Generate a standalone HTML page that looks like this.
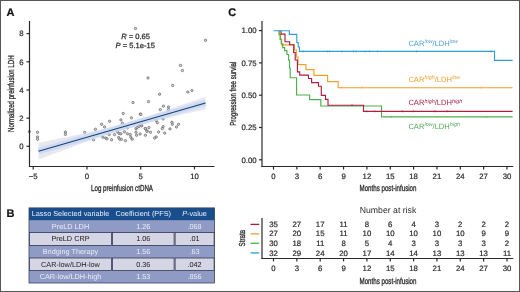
<!DOCTYPE html>
<html lang="en">
<head>
<meta charset="utf-8">
<title>Figure</title>
<style>
html,body{margin:0;padding:0;background:#fff;}
body{width:520px;height:292px;overflow:hidden;}
svg{display:block;font-family:"Liberation Sans", sans-serif;text-rendering:geometricPrecision;}
</style>
</head>
<body>
<svg width="520" height="292" viewBox="0 0 520 292">
<rect width="520" height="292" fill="#ffffff"/>
<g id="panelA">
<text x="6.4" y="15.8" font-size="11" font-weight="bold" fill="#111" stroke="#111" stroke-width="0.2">A</text>
<g fill="#cdcdcd" stroke="#555555" stroke-width="0.6">
<circle cx="29.4" cy="131.6" r="1.2"/>
<circle cx="37.5" cy="132.3" r="1.2"/>
<circle cx="37.5" cy="136.9" r="1.2"/>
<circle cx="37.5" cy="139.2" r="1.2"/>
<circle cx="65.4" cy="132.0" r="1.2"/>
<circle cx="65.4" cy="134.4" r="1.2"/>
<circle cx="84.7" cy="132.4" r="1.2"/>
<circle cx="95.4" cy="129.3" r="1.2"/>
<circle cx="101.6" cy="124.3" r="1.2"/>
<circle cx="104.6" cy="127.0" r="1.2"/>
<circle cx="109.6" cy="121.3" r="1.2"/>
<circle cx="120.9" cy="119.9" r="1.2"/>
<circle cx="122.4" cy="123.3" r="1.2"/>
<circle cx="123.2" cy="113.5" r="1.2"/>
<circle cx="131.4" cy="117.8" r="1.2"/>
<circle cx="140.3" cy="114.1" r="1.2"/>
<circle cx="93.5" cy="139.8" r="1.2"/>
<circle cx="102.8" cy="137.2" r="1.2"/>
<circle cx="105.7" cy="138.0" r="1.2"/>
<circle cx="106.9" cy="138.8" r="1.2"/>
<circle cx="109.2" cy="134.6" r="1.2"/>
<circle cx="111.6" cy="139.8" r="1.2"/>
<circle cx="114.5" cy="134.6" r="1.2"/>
<circle cx="117.4" cy="131.7" r="1.2"/>
<circle cx="119.1" cy="133.4" r="1.2"/>
<circle cx="120.9" cy="133.8" r="1.2"/>
<circle cx="118.6" cy="137.5" r="1.2"/>
<circle cx="119.7" cy="139.2" r="1.2"/>
<circle cx="121.5" cy="139.4" r="1.2"/>
<circle cx="125.5" cy="140.7" r="1.2"/>
<circle cx="124.4" cy="131.7" r="1.2"/>
<circle cx="127.3" cy="133.8" r="1.2"/>
<circle cx="130.2" cy="134.6" r="1.2"/>
<circle cx="130.8" cy="137.2" r="1.2"/>
<circle cx="132.2" cy="139.2" r="1.2"/>
<circle cx="127.3" cy="127.9" r="1.2"/>
<circle cx="136.0" cy="128.7" r="1.2"/>
<circle cx="137.2" cy="127.6" r="1.2"/>
<circle cx="139.0" cy="126.4" r="1.2"/>
<circle cx="141.3" cy="125.2" r="1.2"/>
<circle cx="136.0" cy="132.2" r="1.2"/>
<circle cx="136.6" cy="135.2" r="1.2"/>
<circle cx="140.1" cy="134.0" r="1.2"/>
<circle cx="145.4" cy="128.7" r="1.2"/>
<circle cx="147.1" cy="131.1" r="1.2"/>
<circle cx="145.4" cy="135.2" r="1.2"/>
<circle cx="148.9" cy="127.6" r="1.2"/>
<circle cx="135.5" cy="28.5" r="1.2"/>
<circle cx="205.5" cy="40.3" r="1.2"/>
<circle cx="180.5" cy="65.4" r="1.2"/>
<circle cx="182.4" cy="70.5" r="1.2"/>
<circle cx="148.0" cy="77.9" r="1.2"/>
<circle cx="172.7" cy="85.4" r="1.2"/>
<circle cx="159.6" cy="94.2" r="1.2"/>
<circle cx="187.8" cy="92.0" r="1.2"/>
<circle cx="191.9" cy="90.5" r="1.2"/>
<circle cx="148.5" cy="101.6" r="1.2"/>
<circle cx="133.0" cy="102.5" r="1.2"/>
<circle cx="163.4" cy="106.1" r="1.2"/>
<circle cx="160.3" cy="109.6" r="1.2"/>
<circle cx="168.5" cy="107.0" r="1.2"/>
<circle cx="168.5" cy="109.6" r="1.2"/>
<circle cx="140.8" cy="114.3" r="1.2"/>
<circle cx="163.1" cy="118.9" r="1.2"/>
<circle cx="156.2" cy="120.4" r="1.2"/>
<circle cx="157.3" cy="122.7" r="1.2"/>
<circle cx="171.9" cy="122.3" r="1.2"/>
<circle cx="172.4" cy="124.3" r="1.2"/>
<circle cx="178.5" cy="124.3" r="1.2"/>
<circle cx="176.5" cy="127.0" r="1.2"/>
<circle cx="141.8" cy="125.8" r="1.2"/>
<circle cx="145.4" cy="128.6" r="1.2"/>
<circle cx="146.9" cy="131.2" r="1.2"/>
<circle cx="150.5" cy="132.3" r="1.2"/>
<circle cx="163.1" cy="126.6" r="1.2"/>
<circle cx="162.3" cy="128.6" r="1.2"/>
<circle cx="170.0" cy="128.9" r="1.2"/>
<circle cx="158.5" cy="132.0" r="1.2"/>
<circle cx="164.7" cy="133.1" r="1.2"/>
<circle cx="156.2" cy="136.9" r="1.2"/>
<circle cx="154.6" cy="138.1" r="1.2"/>
</g>
<polygon points="38.5,142.9 42.7,142.1 46.9,141.2 51.0,140.3 55.2,139.5 59.4,138.6 63.5,137.7 67.7,136.9 71.9,136.0 76.1,135.1 80.2,134.2 84.4,133.3 88.6,132.3 92.8,131.4 97.0,130.4 101.1,129.4 105.3,128.4 109.5,127.4 113.7,126.3 117.8,125.2 122.0,124.1 126.2,122.9 130.3,121.7 134.5,120.4 138.7,119.1 142.9,117.8 147.1,116.5 151.2,115.2 155.4,113.8 159.6,112.4 163.8,111.1 167.9,109.7 172.1,108.3 176.3,106.8 180.4,105.4 184.6,104.0 188.8,102.5 193.0,101.1 197.2,99.7 201.3,98.2 205.5,96.8 205.5,109.2 201.3,110.2 197.2,111.2 193.0,112.1 188.8,113.1 184.6,114.1 180.4,115.0 176.3,116.0 172.1,117.0 167.9,118.0 163.8,119.0 159.6,120.1 155.4,121.1 151.2,122.2 147.1,123.2 142.9,124.3 138.7,125.4 134.5,126.6 130.3,127.7 126.2,128.9 122.0,130.1 117.8,131.4 113.7,132.7 109.5,134.0 105.3,135.4 101.1,136.8 97.0,138.2 92.8,139.7 88.6,141.2 84.4,142.6 80.2,144.1 76.1,145.6 71.9,147.2 67.7,148.7 63.5,150.2 59.4,151.7 55.2,153.3 51.0,154.8 46.9,156.4 42.7,157.9 38.5,159.5" fill="#d6d6e6" opacity="0.58"/>
<line x1="38.5" y1="151.2" x2="205.5" y2="103.0" stroke="#bdd5f5" stroke-width="6.4" opacity="0.62"/>
<line x1="38.5" y1="151.2" x2="205.5" y2="103.0" stroke="#1f3f6e" stroke-width="1.15"/>
<g stroke="#2a2a2a" stroke-width="1.2" fill="none">
<path d="M29.5 21 V166.9"/><path d="M29 166.4 H214.5" stroke-width="1.05"/>
<path d="M26.5 33.6 H29.5"/>
<path d="M26.5 61.8 H29.5"/>
<path d="M26.5 90.0 H29.5"/>
<path d="M26.5 118.2 H29.5"/>
<path d="M26.5 146.3 H29.5"/>
<path d="M33.2 166.4 V169.4"/>
<path d="M87.0 166.4 V169.4"/>
<path d="M140.7 166.4 V169.4"/>
<path d="M194.5 166.4 V169.4"/>
</g>
<g font-size="7.8" fill="#2b2b2b" stroke="#2b2b2b" stroke-width="0.2">
<text x="23.7" y="36.4" text-anchor="end">8</text>
<text x="23.7" y="64.6" text-anchor="end">6</text>
<text x="23.7" y="92.8" text-anchor="end">4</text>
<text x="23.7" y="121.0" text-anchor="end">2</text>
<text x="23.7" y="149.1" text-anchor="end">0</text>
<text x="33.2" y="178.9" text-anchor="middle">−5</text>
<text x="87.0" y="178.9" text-anchor="middle">0</text>
<text x="140.7" y="178.9" text-anchor="middle">5</text>
<text x="194.5" y="178.9" text-anchor="middle">10</text>
</g>
<g font-size="7.55" fill="#2b2b2b" stroke="#2b2b2b" stroke-width="0.25">
<text x="121.2" y="38.8"><tspan font-style="italic">R</tspan> = 0.65</text>
<text x="115.6" y="48.0"><tspan font-style="italic">P</tspan> = 5.1e-15</text>
</g>
<text x="122" y="191.4" font-size="8.7" fill="#2b2b2b" stroke="#2b2b2b" stroke-width="0.32" text-anchor="middle" textLength="62" lengthAdjust="spacingAndGlyphs">Log preinfusion ctDNA</text>
<text transform="translate(14 93.7) rotate(-90)" font-size="8.7" fill="#2b2b2b" stroke="#2b2b2b" stroke-width="0.32" text-anchor="middle" textLength="76.5" lengthAdjust="spacingAndGlyphs">Normalized preinfusion LDH</text>
</g>
<g id="panelB">
<text x="6.6" y="216.8" font-size="11" font-weight="bold" fill="#111" stroke="#111" stroke-width="0.2">B</text>
<rect x="29.0" y="207.9" width="185.5" height="75.1" fill="#909bc5"/>
<rect x="29.0" y="207.9" width="185.5" height="12.3" fill="#194e8c"/>
<rect x="29.0" y="232.6" width="185.5" height="12.8" fill="#d4d5e5"/>
<rect x="29.0" y="258.0" width="185.5" height="12.6" fill="#d4d5e5"/>
<g stroke="#2a2f4a" stroke-width="0.75" fill="none">
<rect x="29.4" y="232.6" width="82.2" height="12.8"/>
<rect x="112.6" y="232.6" width="61.5" height="12.8"/>
<rect x="175.1" y="232.6" width="39.0" height="12.8"/>
<rect x="29.4" y="258.0" width="82.2" height="12.6"/>
<rect x="112.6" y="258.0" width="61.5" height="12.6"/>
<rect x="175.1" y="258.0" width="39.0" height="12.6"/>
</g>
<rect x="29.0" y="207.9" width="185.5" height="75.1" fill="none" stroke="#3b4468" stroke-width="0.8"/>
<g font-size="7.3" text-anchor="middle">
<text x="70.5" y="216.25" fill="#e6effa">Lasso Selected variable</text>
<text x="143.25" y="216.25" fill="#e6effa">Coefficient (PFS)</text>
<text x="194.5" y="216.25" fill="#e6effa"><tspan font-style="italic">P</tspan>-value</text>
<text x="70.5" y="228.6" fill="#e9ecf7">PreLD LDH</text>
<text x="143.25" y="228.6" fill="#e9ecf7">1.26</text>
<text x="194.5" y="228.6" fill="#e9ecf7">.068</text>
<text x="70.5" y="241.2" fill="#1c1c1c">PreLD CRP</text>
<text x="143.25" y="241.2" fill="#1c1c1c">1.06</text>
<text x="194.5" y="241.2" fill="#1c1c1c">.01</text>
<text x="70.5" y="253.9" fill="#e9ecf7">Bridging Therapy</text>
<text x="143.25" y="253.9" fill="#e9ecf7">1.56</text>
<text x="194.5" y="253.9" fill="#e9ecf7">.63</text>
<text x="70.5" y="266.5" fill="#1c1c1c">CAR-low/LDH-low</text>
<text x="143.25" y="266.5" fill="#1c1c1c">0.36</text>
<text x="194.5" y="266.5" fill="#1c1c1c">.042</text>
<text x="70.5" y="279.0" fill="#e9ecf7">CAR-low/LDH-high</text>
<text x="143.25" y="279.0" fill="#e9ecf7">1.53</text>
<text x="194.5" y="279.0" fill="#e9ecf7">.856</text>
</g>
</g>
<g id="panelC">
<text x="228.2" y="15.8" font-size="11" font-weight="bold" fill="#111" stroke="#111" stroke-width="0.2">C</text>
<path d="M279.6 30.7 L279.6 34.6 L280.6 34.6 L280.6 39.4 L281.6 39.4 L281.6 44.8 L294.4 44.8 L294.4 50 L296.4 50 L296.4 57 L298 57 L298 64.6 L306 64.6 L306 69.6 L314 69.6 L314 75.4 L327.6 75.4 L327.6 81.6 L338.2 81.6 L338.2 87.7 L512.6 87.7" fill="none" stroke="#f2a02e" stroke-width="1.15" stroke-linejoin="miter"/>
<path d="M342 86.5 V88.7 M362 86.5 V88.7 M481 86.5 V88.7" fill="none" stroke="#f2a02e" stroke-width="0.7" opacity="0.85"/>
<path d="M279.0 30.7 L279.0 34.7 L280.1 34.7 L280.1 39.3 L281.2 39.3 L281.2 43.7 L282.7 43.7 L282.7 47.6 L284.6 47.6 L284.6 50.6 L286.9 50.6 L286.9 54.5 L288.6 54.5 L288.6 60 L289.5 60 L289.5 68 L290.2 68 L290.2 77.7 L296.6 77.7 L296.6 95 L309.6 95 L309.6 99.6 L320.8 99.6 L320.8 106 L381.5 106 L381.5 116.9 L512.6 116.9" fill="none" stroke="#4db04a" stroke-width="1.15" stroke-linejoin="miter"/>
<path d="M391 115.8 V118.0 M486.3 115.8 V118.0" fill="none" stroke="#4db04a" stroke-width="0.7" opacity="0.85"/>
<path d="M281.0 30.7 L281.0 34.1 L285.0 34.1 L285.0 41.7 L289.7 41.7 L289.7 44.7 L293.8 44.7 L293.6 52.5 L295.2 52.5 L295.2 60 L297.4 60 L297.4 71.8 L299.7 71.8 L299.7 75.1 L308.5 75.1 L308.5 78.5 L311.6 78.5 L311.6 82.6 L318.5 82.6 L318.5 86.2 L321.3 86.2 L321.3 95.4 L325.5 95.4 L325.5 99.3 L328 99.3 L328 105.2 L363.5 105.2 L363.5 111.4 L512.6 111.4" fill="none" stroke="#ab1f3f" stroke-width="1.15" stroke-linejoin="miter"/>
<path d="M366.5 110.2 V112.4 M374.8 110.2 V112.4 M402.5 110.2 V112.4 M413.3 110.2 V112.4 M435 110.2 V112.4 M447 110.2 V112.4" fill="none" stroke="#ab1f3f" stroke-width="0.7" opacity="0.85"/>
<path d="M352 104.0 V106.2" fill="none" stroke="#ab1f3f" stroke-width="0.7" opacity="0.85"/>
<path d="M273.5 30.7 L289.3 30.7 L289.3 34.4 L296.8 34.4 L296.8 42.5 L298.2 42.5 L298.2 47 L299.4 47 L299.4 51.3 L494.5 51.3 L494.5 60.4 L512.6 60.4" fill="none" stroke="#2f9fd8" stroke-width="1.15" stroke-linejoin="miter"/>
<path d="M303.4 50.3 V52.5 M327.3 50.3 V52.5 M329.6 50.3 V52.5 M341.9 50.3 V52.5 M353.5 50.3 V52.5 M356 50.3 V52.5 M365.2 50.3 V52.5 M369.4 50.3 V52.5 M377.7 50.3 V52.5 M416.5 50.3 V52.5 M491 50.3 V52.5" fill="none" stroke="#2f9fd8" stroke-width="0.7" opacity="0.85"/>
<text x="408.4" y="45.8" font-size="7.6" fill="#4a9fd0">CAR<tspan font-size="5.4" font-style="italic" dy="-2.5">low</tspan><tspan dy="2.5">/LDH</tspan><tspan font-size="5.4" font-style="italic" dy="-2.5">low</tspan></text>
<text x="408.4" y="81.7" font-size="7.6" fill="#f2a02e">CAR<tspan font-size="5.4" font-style="italic" dy="-2.5">high</tspan><tspan dy="2.5">/LDH</tspan><tspan font-size="5.4" font-style="italic" dy="-2.5">low</tspan></text>
<text x="408.4" y="105.0" font-size="7.6" fill="#ab1f3f">CAR<tspan font-size="5.4" font-style="italic" dy="-2.5">high</tspan><tspan dy="2.5">/LDH</tspan><tspan font-size="5.4" font-style="italic" dy="-2.5">high</tspan></text>
<text x="408.4" y="128.9" font-size="7.6" fill="#55a85a">CAR<tspan font-size="5.4" font-style="italic" dy="-2.5">low</tspan><tspan dy="2.5">/LDH</tspan><tspan font-size="5.4" font-style="italic" dy="-2.5">high</tspan></text>
<g stroke="#2a2a2a" stroke-width="1.2" fill="none">
<path d="M262 21 V167"/><path d="M261.4 166.5 H513.3" stroke-width="1.05"/>
<path d="M259 30.60 H262"/>
<path d="M259 62.90 H262"/>
<path d="M259 95.20 H262"/>
<path d="M259 127.50 H262"/>
<path d="M259 159.80 H262"/>
<path d="M273.50 166.5 V169.6"/>
<path d="M296.85 166.5 V169.6"/>
<path d="M320.20 166.5 V169.6"/>
<path d="M343.55 166.5 V169.6"/>
<path d="M366.90 166.5 V169.6"/>
<path d="M390.25 166.5 V169.6"/>
<path d="M413.59 166.5 V169.6"/>
<path d="M436.94 166.5 V169.6"/>
<path d="M460.29 166.5 V169.6"/>
<path d="M483.64 166.5 V169.6"/>
<path d="M506.99 166.5 V169.6"/>
<path d="M262 218 V258.9"/><path d="M261.4 258.4 H513.3" stroke-width="1.05"/>
<path d="M273.50 258.4 V261.4"/>
<path d="M296.85 258.4 V261.4"/>
<path d="M320.20 258.4 V261.4"/>
<path d="M343.55 258.4 V261.4"/>
<path d="M366.90 258.4 V261.4"/>
<path d="M390.25 258.4 V261.4"/>
<path d="M413.59 258.4 V261.4"/>
<path d="M436.94 258.4 V261.4"/>
<path d="M460.29 258.4 V261.4"/>
<path d="M483.64 258.4 V261.4"/>
<path d="M506.99 258.4 V261.4"/>
</g>
<g font-size="7.8" fill="#2b2b2b" stroke="#2b2b2b" stroke-width="0.2">
<text x="256.6" y="33.40" text-anchor="end">1.00</text>
<text x="256.6" y="65.70" text-anchor="end">0.75</text>
<text x="256.6" y="98.00" text-anchor="end">0.50</text>
<text x="256.6" y="130.30" text-anchor="end">0.25</text>
<text x="256.6" y="162.60" text-anchor="end">0.00</text>
<text x="273.50" y="178.9" text-anchor="middle">0</text>
<text x="273.50" y="271.2" text-anchor="middle">0</text>
<text x="296.85" y="178.9" text-anchor="middle">3</text>
<text x="296.85" y="271.2" text-anchor="middle">3</text>
<text x="320.20" y="178.9" text-anchor="middle">6</text>
<text x="320.20" y="271.2" text-anchor="middle">6</text>
<text x="343.55" y="178.9" text-anchor="middle">9</text>
<text x="343.55" y="271.2" text-anchor="middle">9</text>
<text x="366.90" y="178.9" text-anchor="middle">12</text>
<text x="366.90" y="271.2" text-anchor="middle">12</text>
<text x="390.25" y="178.9" text-anchor="middle">15</text>
<text x="390.25" y="271.2" text-anchor="middle">15</text>
<text x="413.59" y="178.9" text-anchor="middle">18</text>
<text x="413.59" y="271.2" text-anchor="middle">18</text>
<text x="436.94" y="178.9" text-anchor="middle">21</text>
<text x="436.94" y="271.2" text-anchor="middle">21</text>
<text x="460.29" y="178.9" text-anchor="middle">24</text>
<text x="460.29" y="271.2" text-anchor="middle">24</text>
<text x="483.64" y="178.9" text-anchor="middle">27</text>
<text x="483.64" y="271.2" text-anchor="middle">27</text>
<text x="506.99" y="178.9" text-anchor="middle">30</text>
<text x="506.99" y="271.2" text-anchor="middle">30</text>
<text x="273.50" y="226.9" text-anchor="middle">35</text>
<text x="296.85" y="226.9" text-anchor="middle">27</text>
<text x="320.20" y="226.9" text-anchor="middle">17</text>
<text x="343.55" y="226.9" text-anchor="middle">11</text>
<text x="366.90" y="226.9" text-anchor="middle">8</text>
<text x="390.25" y="226.9" text-anchor="middle">6</text>
<text x="413.59" y="226.9" text-anchor="middle">4</text>
<text x="436.94" y="226.9" text-anchor="middle">3</text>
<text x="460.29" y="226.9" text-anchor="middle">2</text>
<text x="483.64" y="226.9" text-anchor="middle">2</text>
<text x="506.99" y="226.9" text-anchor="middle">2</text>
<text x="273.50" y="236.4" text-anchor="middle">27</text>
<text x="296.85" y="236.4" text-anchor="middle">20</text>
<text x="320.20" y="236.4" text-anchor="middle">15</text>
<text x="343.55" y="236.4" text-anchor="middle">11</text>
<text x="366.90" y="236.4" text-anchor="middle">10</text>
<text x="390.25" y="236.4" text-anchor="middle">10</text>
<text x="413.59" y="236.4" text-anchor="middle">10</text>
<text x="436.94" y="236.4" text-anchor="middle">10</text>
<text x="460.29" y="236.4" text-anchor="middle">10</text>
<text x="483.64" y="236.4" text-anchor="middle">9</text>
<text x="506.99" y="236.4" text-anchor="middle">9</text>
<text x="273.50" y="245.9" text-anchor="middle">30</text>
<text x="296.85" y="245.9" text-anchor="middle">18</text>
<text x="320.20" y="245.9" text-anchor="middle">11</text>
<text x="343.55" y="245.9" text-anchor="middle">8</text>
<text x="366.90" y="245.9" text-anchor="middle">5</text>
<text x="390.25" y="245.9" text-anchor="middle">4</text>
<text x="413.59" y="245.9" text-anchor="middle">3</text>
<text x="436.94" y="245.9" text-anchor="middle">3</text>
<text x="460.29" y="245.9" text-anchor="middle">3</text>
<text x="483.64" y="245.9" text-anchor="middle">3</text>
<text x="506.99" y="245.9" text-anchor="middle">2</text>
<text x="273.50" y="255.5" text-anchor="middle">32</text>
<text x="296.85" y="255.5" text-anchor="middle">29</text>
<text x="320.20" y="255.5" text-anchor="middle">24</text>
<text x="343.55" y="255.5" text-anchor="middle">20</text>
<text x="366.90" y="255.5" text-anchor="middle">17</text>
<text x="390.25" y="255.5" text-anchor="middle">14</text>
<text x="413.59" y="255.5" text-anchor="middle">14</text>
<text x="436.94" y="255.5" text-anchor="middle">13</text>
<text x="460.29" y="255.5" text-anchor="middle">13</text>
<text x="483.64" y="255.5" text-anchor="middle">13</text>
<text x="506.99" y="255.5" text-anchor="middle">11</text>
</g>
<path d="M250.5 224.4 H259.2" stroke="#ab1f3f" stroke-width="1.3"/>
<path d="M250.5 233.9 H259.2" stroke="#f2a02e" stroke-width="1.3"/>
<path d="M250.5 243.3 H259.2" stroke="#4db04a" stroke-width="1.3"/>
<path d="M250.5 252.9 H259.2" stroke="#2f9fd8" stroke-width="1.3"/>
<text transform="translate(245.1 238.2) rotate(-90)" font-size="8.7" fill="#2b2b2b" stroke="#2b2b2b" stroke-width="0.32" text-anchor="middle" textLength="16.5" lengthAdjust="spacingAndGlyphs">Strata</text>
<text x="388" y="213" font-size="8.7" fill="#2b2b2b" text-anchor="middle">Number at risk</text>
<text x="388" y="191.4" font-size="8.7" fill="#2b2b2b" stroke="#2b2b2b" stroke-width="0.32" text-anchor="middle" textLength="57" lengthAdjust="spacingAndGlyphs">Months post-infusion</text>
<text x="388" y="283.8" font-size="8.7" fill="#2b2b2b" stroke="#2b2b2b" stroke-width="0.32" text-anchor="middle" textLength="57" lengthAdjust="spacingAndGlyphs">Months post-infusion</text>
<text transform="translate(236.3 93.7) rotate(-90)" font-size="8.7" fill="#2b2b2b" stroke="#2b2b2b" stroke-width="0.32" text-anchor="middle" textLength="64" lengthAdjust="spacingAndGlyphs">Progression free survial</text>
</g>
<rect x="0.5" y="0.5" width="519" height="291" fill="none" stroke="#575757" stroke-width="1"/>
</svg>
</body>
</html>
